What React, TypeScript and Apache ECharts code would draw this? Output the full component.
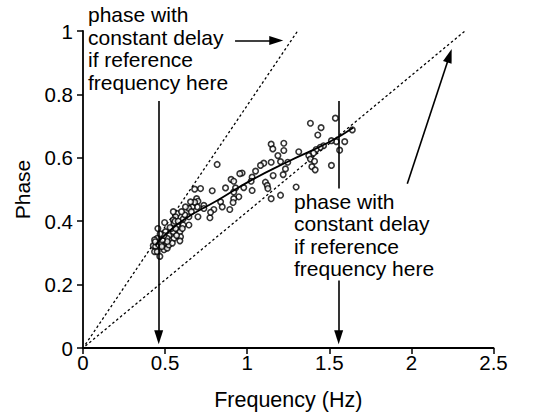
import React, { useEffect, useRef } from "react";
import * as echarts from "echarts";

const xTicks = ["0", "0.5", "1", "1.5", "2", "2.5"];
const yTicks = ["0", "0.2", "0.4", "0.6", "0.8", "1"];

const scatterFreq = [
  1.537, 1.385, 1.45, 1.43, 1.64, 1.594, 1.543, 1.513, 1.563, 1.465, 1.445, 1.42, 1.404, 1.375, 1.385, 1.41,
  1.394, 1.414, 1.513, 1.314, 1.298, 1.146, 1.223, 1.156, 1.223, 1.187, 1.203, 1.146, 1.247, 1.233, 1.158,
  1.219, 1.101, 1.081, 1.051, 1.111, 1.122, 1.126, 1.146, 1.203, 1.03, 1.024, 1.03, 0.969, 0.955, 0.902,
  0.918, 0.929, 0.979, 0.949, 0.918, 0.918, 0.914, 0.868, 0.817, 0.787, 0.716, 0.68, 0.692, 0.7, 0.736,
  0.838, 0.848, 0.797, 0.773, 0.777, 0.894, 0.736, 0.696, 0.7, 0.665, 0.645, 0.624, 0.645, 0.645, 0.61,
  0.61, 0.574, 0.564, 0.55, 0.574, 0.57, 0.55, 0.59, 0.594, 0.59, 0.554, 0.523, 0.513, 0.503, 0.497, 0.456,
  0.452, 0.436, 0.428, 0.442, 0.462, 0.436, 0.452, 0.468, 0.483, 0.493, 0.513, 0.523, 0.544, 0.513, 0.472,
  0.483, 0.493, 0.538, 0.554, 0.564, 0.605, 0.47, 0.53, 0.56, 0.58, 0.62, 0.66, 0.68, 0.57, 0.55, 0.44, 0.48,
  0.655, 0.6,
];
const scatterPhase = [
  0.725, 0.709, 0.695, 0.672, 0.688, 0.651, 0.651, 0.654, 0.624, 0.638, 0.633, 0.626, 0.615, 0.607, 0.596,
  0.589, 0.572, 0.562, 0.576, 0.619, 0.508, 0.643, 0.646, 0.628, 0.623, 0.607, 0.588, 0.586, 0.586, 0.565,
  0.544, 0.547, 0.583, 0.576, 0.558, 0.523, 0.513, 0.503, 0.471, 0.482, 0.539, 0.526, 0.497, 0.552, 0.55,
  0.532, 0.526, 0.505, 0.506, 0.477, 0.492, 0.471, 0.459, 0.505, 0.579, 0.496, 0.503, 0.501, 0.471, 0.463,
  0.45, 0.461, 0.445, 0.437, 0.411, 0.428, 0.437, 0.44, 0.445, 0.414, 0.445, 0.44, 0.445, 0.414, 0.388,
  0.388, 0.407, 0.424, 0.414, 0.404, 0.388, 0.372, 0.367, 0.367, 0.351, 0.338, 0.346, 0.355, 0.346, 0.367,
  0.396, 0.377, 0.346, 0.341, 0.323, 0.32, 0.325, 0.304, 0.304, 0.289, 0.325, 0.31, 0.315, 0.325, 0.331,
  0.336, 0.331, 0.341, 0.355, 0.377, 0.393, 0.377, 0.377, 0.36, 0.38, 0.4, 0.4, 0.42, 0.43, 0.46, 0.355,
  0.43, 0.335, 0.32, 0.461, 0.43,
];

const fitFreq = [0.44, 0.6, 0.82, 1.02, 1.24, 1.5, 1.645];
const fitPhase = [0.325, 0.4, 0.466, 0.528, 0.586, 0.65, 0.695];

// constant-delay lines (start, end)
const steepLine = [[0.015, 0.0115], [1.307, 1]];
const shallowLine = [[0.015, 0.0065], [2.326, 1]];

// annotation arrows: [from, to] in data units
const arrowSegments = [
  { from: [0.461, 0.779], to: [0.461, 0.034], head: true },
  { from: [1.557, 0.779], to: [1.557, 0.503], head: false },
  { from: [1.557, 0.213], to: [1.557, 0.034], head: true },
  { from: [0.926, 0.97], to: [1.177, 0.97], head: true },
  { from: [1.975, 0.518], to: [2.232, 0.922], head: true },
];

const noteText = ["phase with", "constant delay", "if reference", "frequency here"];

const FONT = "'Liberation Sans', Arial, Helvetica, sans-serif";

export default function App() {
  const ref = useRef<HTMLDivElement>(null);
  useEffect(() => {
    if (!ref.current) return;
    const chart = echarts.init(ref.current, null, { renderer: "svg" });
    const points = scatterFreq.map((f, i) => [f, scatterPhase[i]]);
    const fit = fitFreq.map((f, i) => [f, fitPhase[i]]);
    const markData = arrowSegments.map((a) => [
      { coord: a.from, symbol: "none" },
      a.head
        ? { coord: a.to, symbol: "triangle", symbolSize: [9, 14] }
        : { coord: a.to, symbol: "none" },
    ]);
    chart.setOption({
      animation: false,
      backgroundColor: "#fff",
      grid: { left: 83, right: 49.5, top: 31, bottom: 65.3, containLabel: false },
      xAxis: {
        type: "value",
        min: 0,
        max: 2.5,
        interval: 0.5,
        name: "Frequency (Hz)",
        nameLocation: "middle",
        nameGap: 41,
        nameTextStyle: { color: "#000", fontSize: 21.5, fontFamily: FONT },
        axisLine: { show: true, lineStyle: { color: "#000", width: 1.8 } },
        axisTick: { show: true, length: 6, lineStyle: { color: "#000", width: 1.5 } },
        axisLabel: {
          color: "#000",
          fontSize: 20.5,
          fontFamily: FONT,
          margin: 4,
          formatter: (v: number) => xTicks[Math.round(v / 0.5)] ?? "",
        },
        splitLine: { show: false },
      },
      yAxis: {
        type: "value",
        min: 0,
        max: 1,
        interval: 0.2,
        name: "Phase",
        nameLocation: "middle",
        nameGap: 50,
        nameTextStyle: { color: "#000", fontSize: 21, fontFamily: FONT },
        axisLine: { show: true, lineStyle: { color: "#000", width: 1.8 } },
        axisTick: { show: true, length: 6, lineStyle: { color: "#000", width: 1.5 } },
        axisLabel: {
          color: "#000",
          fontSize: 20.5,
          fontFamily: FONT,
          margin: 10,
          formatter: (v: number) => yTicks[Math.round(v / 0.2)] ?? "",
        },
        splitLine: { show: false },
      },
      series: [
        {
          type: "line",
          data: steepLine,
          symbol: "none",
          silent: true,
          lineStyle: { color: "#000", width: 1.3, type: [2.5, 2.5] },
          z: 1,
        },
        {
          type: "line",
          data: shallowLine,
          symbol: "none",
          silent: true,
          lineStyle: { color: "#000", width: 1.3, type: [2.5, 2.5] },
          z: 1,
        },
        {
          type: "scatter",
          data: points,
          symbol: "circle",
          symbolSize: 5.5,
          silent: true,
          itemStyle: { color: "#fff", borderColor: "#000", borderWidth: 1.6 },
          z: 2,
        },
        {
          type: "line",
          data: fit,
          symbol: "none",
          smooth: true,
          silent: true,
          lineStyle: { color: "#000", width: 1.8 },
          z: 3,
          markLine: {
            silent: true,
            animation: false,
            label: { show: false },
            lineStyle: { color: "#000", width: 1.6, type: "solid" },
            itemStyle: { color: "#000" },
            emphasis: { disabled: true },
            data: markData,
          },
        },
      ],
      graphic: [
        {
          type: "text",
          left: 88,
          top: 3,
          silent: true,
          style: {
            text: noteText.join("\n"),
            fill: "#000",
            font: `21px ${FONT}`,
            lineHeight: 22.7,
          },
        },
        {
          type: "text",
          left: 294,
          top: 190,
          silent: true,
          style: {
            text: noteText.join("\n"),
            fill: "#000",
            font: `21px ${FONT}`,
            lineHeight: 22.4,
          },
        },
      ],
    });
    return () => chart.dispose();
  }, []);
  return <div ref={ref} style={{ width: 543, height: 416, position: "absolute", left: 0, top: 0 }} />;
}
